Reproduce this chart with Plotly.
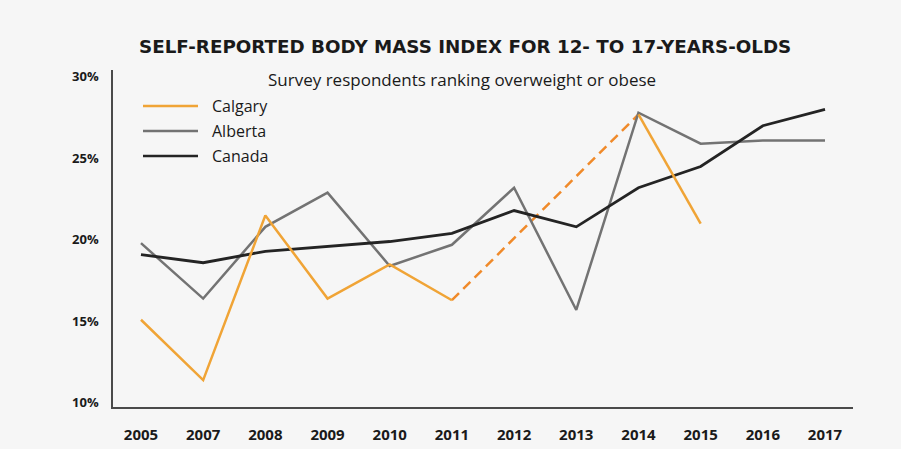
import plotly.graph_objects as go

years = ["2005", "2007", "2008", "2009", "2010", "2011", "2012", "2013", "2014", "2015", "2016", "2017"]
calgary = [15.1, 11.4, 21.5, 16.4, 18.5, 16.3, None, None, 27.7, 21.0, None, None]
alberta = [19.8, 16.4, 20.8, 22.9, 18.4, 19.7, 23.2, 15.7, 27.8, 25.9, 26.1, 26.1]
canada = [19.1, 18.6, 19.3, 19.6, 19.9, 20.4, 21.8, 20.8, 23.2, 24.5, 27.0, 28.0]
y_ticks = [10, 15, 20, 25, 30]

C_CAL = "#f0a436"
C_CAL_DASH = "#f08a2a"
C_ALB = "#737373"
C_CAN = "#242424"
FONT = "Open Sans"
TITLE_FONT = "DejaVu Sans"
BG = "#f6f6f6"

W, H = 901, 449
L, R, T, B = 113, 48, 70, 42
PH = H - T - B  # plot height in px
PW = W - L - R


def px_x(x):
    return (x - L) / PW


def px_y(y):
    return (H - B - y) / PH


fig = go.Figure()
# gap bridge for Calgary (2011 -> 2014)
i0, i1 = 5, 8
fig.add_trace(go.Scatter(x=[years[i0], years[i1]], y=[calgary[i0], calgary[i1]], mode="lines",
                         line=dict(color=C_CAL_DASH, width=2.5, dash="10px,6px"),
                         showlegend=False, hoverinfo="skip"))
fig.add_trace(go.Scatter(x=years, y=alberta, name="Alberta", mode="lines",
                         line=dict(color=C_ALB, width=2.5), showlegend=False))
fig.add_trace(go.Scatter(x=years, y=canada, name="Canada", mode="lines",
                         line=dict(color=C_CAN, width=2.8), showlegend=False))
fig.add_trace(go.Scatter(x=years, y=calgary, name="Calgary", mode="lines",
                         line=dict(color=C_CAL, width=2.5), connectgaps=False, showlegend=False))

# manual legend
legend_items = [("Calgary", C_CAL), ("Alberta", C_ALB), ("Canada", C_CAN)]
legend_y = [106, 131, 156]
for (name, col), py in zip(legend_items, legend_y):
    fig.add_shape(type="line", xref="paper", yref="paper",
                  x0=px_x(143), x1=px_x(198), y0=px_y(py), y1=px_y(py),
                  line=dict(color=col, width=2.5))
    fig.add_annotation(text=name, xref="paper", yref="paper",
                       x=px_x(210), y=px_y(py),
                       xanchor="left", yanchor="middle", showarrow=False,
                       font=dict(family=FONT, size=16, color="#1a1a1a"))

fig.add_annotation(text="<b>SELF-REPORTED BODY MASS INDEX FOR 12- TO 17-YEARS-OLDS</b>",
                   xref="paper", yref="paper", x=px_x(465), y=px_y(47),
                   xanchor="center", yanchor="middle", showarrow=False,
                   font=dict(family=TITLE_FONT, size=18.3, color="#1a1a1a"))
fig.add_annotation(text="Survey respondents ranking overweight or obese",
                   xref="paper", yref="paper", x=px_x(462), y=px_y(79),
                   xanchor="center", yanchor="middle", showarrow=False,
                   font=dict(family=FONT, size=17, color="#1a1a1a"))

fig.update_layout(
    width=W, height=H,
    margin=dict(l=L, r=R, t=T, b=B),
    paper_bgcolor=BG, plot_bgcolor=BG,
    showlegend=False,
    xaxis=dict(type="category", categoryorder="array", categoryarray=years,
               range=[-0.45, 11.45], showgrid=False, zeroline=False, automargin=False,
               showline=True, linecolor="#4a4a4a", linewidth=2,
               tickfont=dict(family=FONT, size=15, color="#1a1a1a", weight="bold"),
               ticks="", ticklabelstandoff=13),
    yaxis=dict(range=[9.75, 30.42], tickvals=y_ticks, ticktext=[f"{v}%" for v in y_ticks],
               showgrid=False, zeroline=False, showline=True, linecolor="#4a4a4a", linewidth=1.5,
               automargin=False,
               tickfont=dict(family=FONT, size=13, color="#1a1a1a", weight="bold"),
               ticks="", ticklabelstandoff=10),
)

fig.write_html("out.html", config={"displayModeBar": False},
               post_script="document.body.style.margin='0';document.body.style.background='%s';" % BG)
